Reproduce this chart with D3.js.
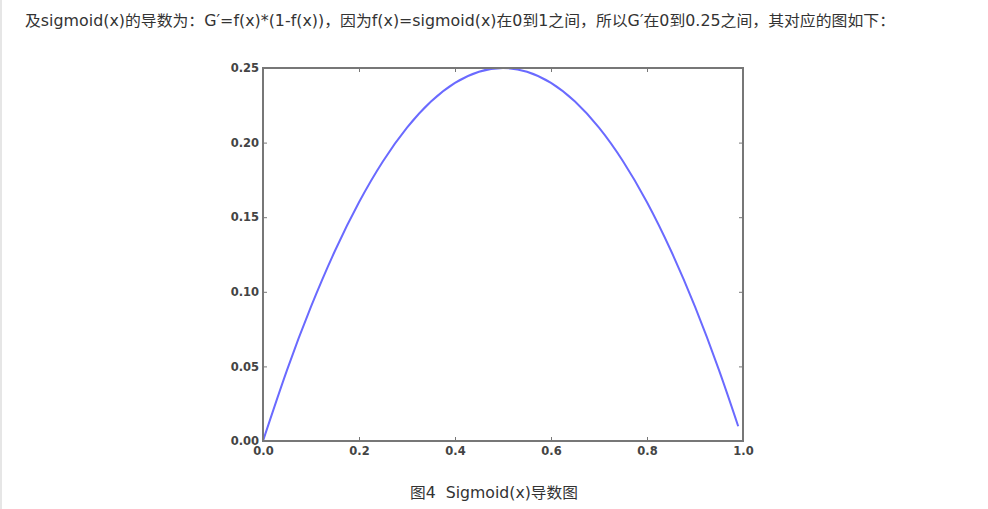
<!DOCTYPE html>
<html><head><meta charset="utf-8">
<script src="https://cdn.jsdelivr.net/npm/d3@7"></script>
<style>
html,body{margin:0;padding:0;background:#fff;}
svg{display:block;}
</style></head>
<body>
<svg id="c" width="988" height="509"></svg>
<script>
const headerText = "及sigmoid(x)的导数为：G′=f(x)*(1-f(x))，因为f(x)=sigmoid(x)在0到1之间，所以G′在0到0.25之间，其对应的图如下：";
const captionText = "图4  Sigmoid(x)导数图";
const xValues = [0,0.05,0.1,0.15,0.2,0.25,0.3,0.35,0.4,0.45,0.5,0.55,0.6,0.65,0.7,0.75,0.8,0.85,0.9,0.95,0.99];
const yValues = [0,0.0475,0.09,0.1275,0.16,0.1875,0.21,0.2275,0.24,0.2475,0.25,0.2475,0.24,0.2275,0.21,0.1875,0.16,0.1275,0.09,0.0475,0.0099];
const xTicks = [0.0,0.2,0.4,0.6,0.8,1.0];
const yTicks = [0.00,0.05,0.10,0.15,0.20,0.25];

const svg = d3.select("#c");
const L=263, R=743, T=68, B=441;
const x = d3.scaleLinear().domain([0,1]).range([L,R]);
const y = d3.scaleLinear().domain([0,0.25]).range([B,T]);

svg.append("line").attr("x1",1).attr("x2",1).attr("y1",0).attr("y2",509).attr("stroke","#e6e6e6").attr("stroke-width",2);

const textFont = "'DejaVu Sans', 'Noto Sans CJK SC', sans-serif";
svg.append("text").attr("x",25).attr("y",26).attr("font-family",textFont)
  .attr("font-size",15).attr("fill","#333")
  .attr("textLength",870).attr("lengthAdjust","spacingAndGlyphs").text(headerText);

const tickStyle = g => {
  g.select(".domain").remove();
  g.selectAll(".tick line").attr("stroke","#777").attr("stroke-width",1);
  g.selectAll(".tick text").attr("font-family","'DejaVu Sans', sans-serif").attr("font-size",11.5).attr("font-weight","bold").attr("fill","#444");
};

svg.append("g").attr("transform",`translate(0,${B})`)
  .call(d3.axisBottom(x).tickValues(xTicks).tickFormat(d3.format(".1f")).tickSizeInner(-4).tickSizeOuter(0).tickPadding(6))
  .call(tickStyle);
svg.append("g").attr("transform",`translate(0,${T})`)
  .call(d3.axisTop(x).tickValues(xTicks).tickFormat("").tickSizeInner(-4).tickSizeOuter(0))
  .call(tickStyle);
svg.append("g").attr("transform",`translate(${L},0)`)
  .call(d3.axisLeft(y).tickValues(yTicks).tickFormat(d3.format(".2f")).tickSizeInner(-4).tickSizeOuter(0).tickPadding(4))
  .call(tickStyle);
svg.append("g").attr("transform",`translate(${R},0)`)
  .call(d3.axisRight(y).tickValues(yTicks).tickFormat("").tickSizeInner(-4).tickSizeOuter(0))
  .call(tickStyle);

const data = xValues.map((v,i)=>[v,yValues[i]]);
svg.append("path").datum(data)
  .attr("fill","none").attr("stroke","#6a6aff").attr("stroke-width",2)
  .attr("d", d3.line().x(d=>x(d[0])).y(d=>y(d[1])).curve(d3.curveNatural));

svg.append("rect").attr("x",L).attr("y",T).attr("width",R-L).attr("height",B-T)
  .attr("fill","none").attr("stroke","#777").attr("stroke-width",2);

svg.append("text").attr("x",410).attr("y",498)
  .attr("font-family",textFont).attr("font-size",15).attr("fill","#333")
  .attr("textLength",168).attr("lengthAdjust","spacingAndGlyphs")
  .attr("xml:space","preserve").style("white-space","pre").text(captionText);
</script>
</body></html>
